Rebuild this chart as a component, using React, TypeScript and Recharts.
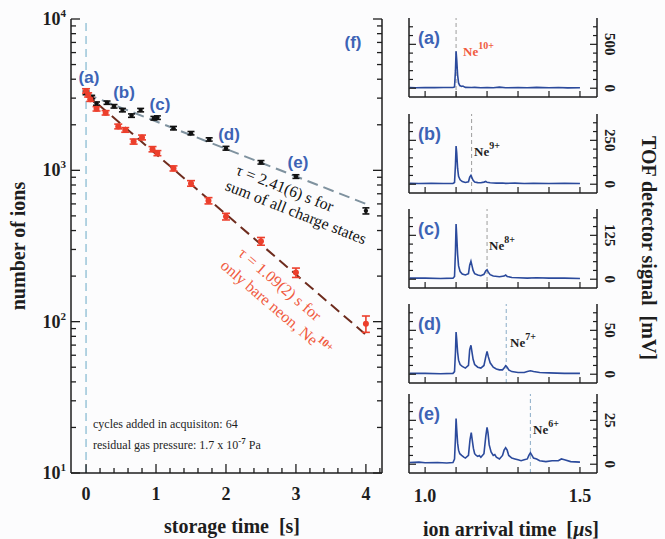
import React from "react";
import { ComposedChart, Line, Scatter, XAxis, YAxis, ErrorBar, ReferenceLine } from "recharts";

// ---------- main panel (f) data ----------
const timesAll = [0, 0.08, 0.15, 0.3, 0.4, 0.52, 0.65, 0.78, 0.97, 1.02, 1.25, 1.5, 1.76, 2.0, 2.5, 3.0, 4.0];
const ionsAll = [3250, 3050, 2760, 2800, 2650, 2500, 2300, 2500, 2210, 2230, 1900, 1760, 1600, 1400, 1130, 910, 540];
const errAll = [90, 80, 70, 70, 70, 65, 60, 65, 60, 60, 50, 45, 40, 40, 30, 25, 25];

const timesNe10 = [0, 0.03, 0.06, 0.15, 0.28, 0.46, 0.56, 0.68, 0.8, 0.95, 1.02, 1.25, 1.5, 1.75, 2.0, 2.5, 3.0, 4.0];
const ionsNe10 = [3350, 3150, 2950, 2550, 2400, 1950, 1850, 1550, 1650, 1380, 1300, 1030, 820, 630, 495, 340, 211, 97];
const errNe10 = [110, 100, 95, 85, 80, 70, 65, 60, 60, 55, 50, 40, 35, 30, 25, 20, 15, 12];

const fitTimes = [0, 4];
const fitAll = [3200, 600];
const fitNe10 = [3200, 82];

const mainXTicks = [0, 0.2, 0.4, 0.6, 0.8, 1, 1.2, 1.4, 1.6, 1.8, 2, 2.2, 2.4, 2.6, 2.8, 3, 3.2, 3.4, 3.6, 3.8, 4, 4.2];
const mainXLabels = [0, 1, 2, 3, 4];
const mainYTicks = [10, 20, 30, 40, 50, 60, 70, 80, 90, 100, 200, 300, 400, 500, 600, 700, 800, 900, 1000, 2000, 3000, 4000, 5000, 6000, 7000, 8000, 9000, 10000];
const mainYLabels = [10, 100, 1000, 10000];

// ---------- TOF spectra (ion arrival time [us], signal [mV]) ----------
const tofA = [[0.95, 8], [0.97, 6], [1.0, 8], [1.03, 7], [1.06, 8], [1.09, 8], [1.095, 15], [1.098, 200], [1.1, 420], [1.102, 330], [1.105, 150], [1.108, 60], [1.112, 30], [1.118, 20], [1.122, 25], [1.13, 10], [1.15, 8], [1.16, 10], [1.18, 5], [1.2, 8], [1.22, 6], [1.24, 12], [1.26, 5], [1.3, 8], [1.33, 5], [1.36, 10], [1.4, 6], [1.43, 8], [1.46, 4], [1.5, 6]];
const tofB = [[0.95, 5], [0.98, 4], [1.02, 5], [1.06, 4], [1.09, 5], [1.095, 10], [1.098, 110], [1.1, 217], [1.102, 180], [1.105, 90], [1.108, 45], [1.113, 25], [1.12, 15], [1.13, 10], [1.14, 14], [1.144, 40], [1.148, 50], [1.151, 38], [1.155, 22], [1.16, 12], [1.17, 9], [1.18, 8], [1.19, 12], [1.196, 16], [1.2, 11], [1.21, 8], [1.23, 6], [1.25, 7], [1.26, 5], [1.29, 6], [1.32, 4], [1.35, 5], [1.4, 4], [1.45, 5], [1.5, 4]];
const tofC = [[0.95, 3], [1.0, 3], [1.05, 2], [1.09, 3], [1.095, 8], [1.098, 80], [1.1, 157], [1.102, 125], [1.105, 70], [1.108, 38], [1.113, 22], [1.12, 15], [1.13, 12], [1.14, 16], [1.144, 40], [1.148, 51], [1.151, 40], [1.155, 25], [1.16, 16], [1.17, 12], [1.18, 10], [1.19, 14], [1.196, 24], [1.2, 27], [1.204, 20], [1.21, 13], [1.22, 9], [1.24, 7], [1.255, 9], [1.26, 12], [1.265, 8], [1.28, 5], [1.3, 4], [1.33, 3], [1.36, 4], [1.4, 3], [1.45, 3], [1.5, 2]];
const tofD = [[0.95, 1], [1.0, 1], [1.05, 0.5], [1.09, 1], [1.095, 3], [1.098, 25], [1.1, 48], [1.102, 40], [1.105, 25], [1.108, 16], [1.113, 11], [1.12, 9], [1.13, 7], [1.14, 10], [1.144, 28], [1.148, 33], [1.151, 26], [1.155, 17], [1.16, 11], [1.17, 8], [1.18, 7], [1.19, 10], [1.196, 20], [1.2, 26], [1.204, 20], [1.21, 13], [1.22, 8], [1.23, 6], [1.24, 5], [1.25, 5], [1.255, 7], [1.26, 9.6], [1.265, 8], [1.27, 5], [1.28, 3], [1.3, 2], [1.32, 2], [1.33, 3], [1.34, 4], [1.35, 3], [1.37, 2], [1.4, 1.5], [1.45, 1], [1.5, 1]];
const tofE = [[0.95, 1], [0.98, 1.2], [1.0, 0.8], [1.04, 1], [1.07, 0.7], [1.09, 1], [1.095, 3], [1.098, 15], [1.1, 26], [1.102, 20], [1.105, 12], [1.108, 8], [1.112, 6], [1.118, 5], [1.125, 4], [1.13, 3.5], [1.14, 5], [1.145, 14], [1.149, 18], [1.152, 14], [1.156, 9], [1.16, 6], [1.165, 5], [1.17, 4.5], [1.175, 5], [1.18, 4], [1.19, 6], [1.196, 16], [1.2, 21], [1.203, 18], [1.207, 11], [1.213, 7], [1.22, 5], [1.225, 5.5], [1.23, 4], [1.24, 3], [1.25, 5], [1.255, 8], [1.26, 9.4], [1.265, 8], [1.27, 5], [1.28, 3.5], [1.29, 3], [1.3, 2.5], [1.31, 2], [1.32, 2.5], [1.33, 3], [1.335, 5], [1.34, 6.5], [1.345, 5], [1.35, 3.5], [1.36, 3], [1.37, 2], [1.39, 1.5], [1.41, 2], [1.43, 2], [1.44, 3], [1.45, 2.5], [1.47, 1.5], [1.5, 1.2]];

const panelXTicks = [1.0, 1.1, 1.2, 1.3, 1.4, 1.5];
const panelXLabels = [1.0, 1.5];
const panelLetters = ["(a)", "(b)", "(c)", "(d)", "(e)"];
const panelIons = ["10+", "9+", "8+", "7+", "6+"];
const panelIonTimes = [1.1, 1.15, 1.2, 1.262, 1.34];
const panelDomains = [[-100, 800], [-50, 400], [-25, 200], [-10, 80], [-5, 40]];
const panelTickSteps = [100, 50, 25, 10, 5];
const panelTickCounts = [8, 8, 8, 8, 8];
const panelLabelValues = [500, 250, 125, 50, 25];
const panelSpectra = [tofA, tofB, tofC, tofD, tofE];

// ---------- styling / layout ----------
const SERIF = "'Liberation Serif', 'Times New Roman', serif";
const SANS = "'Liberation Sans', Arial, sans-serif";
const INK = "#1e1e1e";
const BLUE_LABEL = "#3d63b5";
const RED = "#ec3f2c";
const RED_TEXT = "#f05a40";
const BG = "#fcfcfd";

const panelTops = [18, 114, 209, 304, 394];
const panelH = 79;
const panelLeft = 409;
const panelRight = 597;
const ionLabelX = [463, 474, 489, 510, 533];
const ionLabelDy = [38, 42, 41, 43, 40];
const ionColors = [RED_TEXT, INK, INK, INK, INK];
const ionLineColors = ["#a6a6a6", "#a6a6a6", "#a6a6a6", "#95b4cc", "#95b4cc"];

const near = (a: number, b: number) => Math.abs(a - b) < 1e-6;

// ----- main chart ticks -----
const MainBottomTick = (props: any) => {
  const { x, y, payload } = props;
  const v = payload.value;
  const major = mainXLabels.some((m) => near(m, v));
  return (
    <g>
      <line x1={x} y1={y} x2={x} y2={y - (major ? 9 : 5)} stroke={INK} strokeWidth={1.3} />
      {major && (
        <text x={x} y={y + 27} textAnchor="middle" fontFamily={SERIF} fontWeight="bold" fontSize={18} fill={INK}>
          {Math.round(v)}
        </text>
      )}
    </g>
  );
};
const MainTopTick = (props: any) => {
  const { x, y, payload } = props;
  const major = mainXLabels.some((m) => near(m, payload.value));
  return <line x1={x} y1={y} x2={x} y2={y + (major ? 9 : 5)} stroke={INK} strokeWidth={1.3} />;
};
const MainLeftTick = (props: any) => {
  const { x, y, payload } = props;
  const v = payload.value;
  const major = mainYLabels.some((m) => Math.abs(m - v) < 1e-3);
  return (
    <g>
      <line x1={x} y1={y} x2={x + (major ? 9 : 5)} y2={y} stroke={INK} strokeWidth={1.3} />
      {major && (
        <text x={x - 5} y={y + 6} textAnchor="end" fontFamily={SERIF} fontWeight="bold" fontSize={18} fill={INK}>
          10
          <tspan dy={-8} fontSize={11}>
            {Math.round(Math.log10(v))}
          </tspan>
        </text>
      )}
    </g>
  );
};
const MainRightTick = (props: any) => {
  const { x, y, payload } = props;
  const major = mainYLabels.some((m) => Math.abs(m - payload.value) < 1e-3);
  return <line x1={x} y1={y} x2={x - (major ? 9 : 5)} y2={y} stroke={INK} strokeWidth={1.3} />;
};

// ----- panel ticks -----
const makePanelBottomTick = (showLabels: boolean) => (props: any) => {
  const { x, y, payload } = props;
  const v = payload.value;
  const lab = showLabels && panelXLabels.some((m) => near(m, v));
  return (
    <g>
      <line x1={x} y1={y} x2={x} y2={y - 6} stroke={INK} strokeWidth={1.2} />
      {lab && (
        <text x={x} y={y + 29} textAnchor="middle" fontFamily={SERIF} fontWeight="bold" fontSize={18} fill={INK}>
          {v.toFixed(1)}
        </text>
      )}
    </g>
  );
};
const PanelTopTick = (props: any) => {
  const { x, y } = props;
  return <line x1={x} y1={y} x2={x} y2={y + 6} stroke={INK} strokeWidth={1.2} />;
};
const makePanelLeftTick = (label: number) => (props: any) => {
  const { x, y, payload } = props;
  const v = payload.value;
  const major = v === 0 || v === label;
  return <line x1={x} y1={y} x2={x + (major ? 7 : 4)} y2={y} stroke={INK} strokeWidth={1.2} />;
};
const makePanelRightTick = (label: number) => (props: any) => {
  const { x, y, payload } = props;
  const v = payload.value;
  const major = v === 0 || v === label;
  const tx = x + 13;
  return (
    <g>
      <line x1={x} y1={y} x2={x - (major ? 7 : 4)} y2={y} stroke={INK} strokeWidth={1.2} />
      {major && (
        <text
          x={tx}
          y={y}
          transform={`rotate(90, ${tx}, ${y})`}
          textAnchor="middle"
          dominantBaseline="central"
          fontFamily={SERIF}
          fontWeight="bold"
          fontSize={15}
          fill={INK}
        >
          {v}
        </text>
      )}
    </g>
  );
};

const axisLine = { stroke: INK, strokeWidth: 1.5 };

function MainChart() {
  const allData = timesAll.map((t, i) => ({ x: t, y: ionsAll[i], err: errAll[i] }));
  const ne10Data = timesNe10.map((t, i) => ({ x: t, y: ionsNe10[i], err: errNe10[i] }));
  const fitAllData = fitTimes.map((t, i) => ({ x: t, y: fitAll[i] }));
  const fitNe10Data = fitTimes.map((t, i) => ({ x: t, y: fitNe10[i] }));
  const xDomain = [-0.215, 4.23];
  return (
    <div style={{ position: "absolute", left: 0, top: 0 }}>
      <ComposedChart width={400} height={539} margin={{ top: 19, right: 0, bottom: 0, left: 0 }}>
        <XAxis
          dataKey="x"
          type="number"
          domain={xDomain}
          allowDataOverflow
          ticks={mainXTicks}
          interval={0}
          tickSize={0}
          tickMargin={0}
          tick={MainBottomTick}
          axisLine={axisLine}
          tickLine={false}
          height={66}
        />
        <XAxis
          xAxisId="t"
          orientation="top"
          dataKey="x"
          type="number"
          domain={xDomain}
          allowDataOverflow
          ticks={mainXTicks}
          interval={0}
          tickSize={0}
          tickMargin={0}
          tick={MainTopTick}
          axisLine={axisLine}
          tickLine={false}
          height={0}
        />
        <YAxis
          dataKey="y"
          type="number"
          scale="log"
          domain={[10, 10000]}
          allowDataOverflow
          ticks={mainYTicks}
          interval={0}
          tickSize={0}
          tickMargin={0}
          tick={MainLeftTick}
          axisLine={axisLine}
          tickLine={false}
          width={71}
        />
        <YAxis
          yAxisId="r"
          orientation="right"
          type="number"
          scale="log"
          domain={[10, 10000]}
          allowDataOverflow
          ticks={mainYTicks}
          interval={0}
          tickSize={0}
          tickMargin={0}
          tick={MainRightTick}
          axisLine={axisLine}
          tickLine={false}
          width={18}
        />
        <ReferenceLine x={0} stroke="#8cbdd3" strokeWidth={1.3} strokeDasharray="8 5" />
        <Line data={fitAllData} dataKey="y" stroke="#7f929f" strokeWidth={2} strokeDasharray="11 6" dot={false} isAnimationActive={false} />
        <Line data={fitNe10Data} dataKey="y" stroke="#6e2c1e" strokeWidth={2} strokeDasharray="11 6" dot={false} isAnimationActive={false} />
        <Scatter
          data={allData}
          dataKey="y"
          isAnimationActive={false}
          shape={(p: any) => <circle cx={p.cx} cy={p.cy} r={2.2} fill="#111" />}
        >
          <ErrorBar dataKey="err" direction="y" width={3.5} stroke="#111" strokeWidth={1.6} />
        </Scatter>
        <Scatter
          data={ne10Data}
          dataKey="y"
          isAnimationActive={false}
          shape={(p: any) => <circle cx={p.cx} cy={p.cy} r={3} fill={RED} />}
        >
          <ErrorBar dataKey="err" direction="y" width={4} stroke={RED} strokeWidth={1.6} />
        </Scatter>
      </ComposedChart>
    </div>
  );
}

function Panel({ i }: { i: number }) {
  const top = panelTops[i];
  const last = i === panelTops.length - 1;
  const bottomH = last ? 40 : 8;
  const padTop = 8;
  const data = panelSpectra[i].map(([t, v]) => ({ t, v }));
  const step = panelTickSteps[i];
  const yTicks = Array.from({ length: panelTickCounts[i] }, (_, k) => k * step);
  const label = panelLabelValues[i];
  const xDomain = [0.948, 1.555];
  return (
    <div style={{ position: "absolute", left: 400, top: top - padTop }}>
      <ComposedChart
        width={265}
        height={panelH + padTop + bottomH}
        data={data}
        margin={{ top: padTop, right: 0, bottom: 0, left: 0 }}
      >
        <XAxis
          dataKey="t"
          type="number"
          domain={xDomain}
          allowDataOverflow
          ticks={panelXTicks}
          interval={0}
          tickSize={0}
          tickMargin={0}
          tick={makePanelBottomTick(last)}
          axisLine={axisLine}
          tickLine={false}
          height={bottomH}
        />
        <XAxis
          xAxisId="t"
          orientation="top"
          dataKey="t"
          type="number"
          domain={xDomain}
          allowDataOverflow
          ticks={panelXTicks}
          interval={0}
          tickSize={0}
          tickMargin={0}
          tick={PanelTopTick}
          axisLine={axisLine}
          tickLine={false}
          height={0}
        />
        <YAxis
          type="number"
          domain={panelDomains[i]}
          allowDataOverflow
          ticks={yTicks}
          interval={0}
          tickSize={0}
          tickMargin={0}
          tick={makePanelLeftTick(label)}
          axisLine={axisLine}
          tickLine={false}
          width={panelLeft - 400}
        />
        <YAxis
          yAxisId="r"
          orientation="right"
          type="number"
          domain={panelDomains[i]}
          allowDataOverflow
          ticks={yTicks}
          interval={0}
          tickSize={0}
          tickMargin={0}
          tick={makePanelRightTick(label)}
          axisLine={axisLine}
          tickLine={false}
          width={665 - panelRight}
        />
        <ReferenceLine x={panelIonTimes[i]} stroke={ionLineColors[i]} strokeWidth={1.1} strokeDasharray="4 3" />
        <Line dataKey="v" stroke="#2b4a9c" strokeWidth={1.6} dot={false} isAnimationActive={false} type="linear" />
      </ComposedChart>
    </div>
  );
}

function Overlay() {
  const mainLabels = [
    { t: "(a)", x: 89, y: 83 },
    { t: "(b)", x: 124, y: 98 },
    { t: "(c)", x: 160, y: 110 },
    { t: "(d)", x: 229, y: 140 },
    { t: "(e)", x: 298, y: 168 },
    { t: "(f)", x: 353, y: 48 },
  ];
  return (
    <svg width={665} height={539} style={{ position: "absolute", left: 0, top: 0, pointerEvents: "none" }}>
      {mainLabels.map((m) => (
        <text key={m.t} x={m.x} y={m.y} textAnchor="middle" fontFamily={SANS} fontWeight="bold" fontSize={17} fill={BLUE_LABEL}>
          {m.t}
        </text>
      ))}
      {/* fit annotations */}
      <g fontFamily={SERIF} fontSize={16} fill="#111">
        <text x={285} y={188} textAnchor="middle" dominantBaseline="central" transform="rotate(21.5, 285, 188)">
          τ = 2.41(6) s for
        </text>
        <text x={296} y={212} textAnchor="middle" dominantBaseline="central" transform="rotate(21.5, 296, 212)">
          sum of all charge states
        </text>
      </g>
      <g fontFamily={SERIF} fontSize={16} fill={RED_TEXT}>
        <text x={280} y={284} textAnchor="middle" dominantBaseline="central" transform="rotate(40.5, 280, 284)">
          τ = 1.09(2) s for
        </text>
        <text x={276} y={308} textAnchor="middle" dominantBaseline="central" transform="rotate(40.5, 276, 308)">
          only bare neon, Ne
          <tspan dy={-6} fontSize={11} fontWeight="bold">10+</tspan>
        </text>
      </g>
      <g fontFamily={SERIF} fontSize={12} fill={INK}>
        <text x={93} y={428}>cycles added in acquisiton: 64</text>
        <text x={93} y={449}>
          residual gas pressure: 1.7 x 10
          <tspan dy={-5} fontSize={9} fontWeight="bold">-7</tspan>
          <tspan dy={5}> Pa</tspan>
        </text>
      </g>
      {/* axis titles */}
      <text x={25} y={246} transform="rotate(-90, 25, 246)" textAnchor="middle" fontFamily={SERIF} fontWeight="bold" fontSize={20} fill={INK}>
        number of ions
      </text>
      <text x={232} y={533} textAnchor="middle" fontFamily={SERIF} fontWeight="bold" fontSize={20} fill={INK}>
        storage time{"\u00a0\u00a0"}[s]
      </text>
      <text x={642} y={248} transform="rotate(90, 642, 248)" textAnchor="middle" fontFamily={SERIF} fontWeight="bold" fontSize={20} fill={INK}>
        TOF detector signal{"\u00a0\u00a0"}[mV]
      </text>
      <text x={511} y={536} textAnchor="middle" fontFamily={SERIF} fontWeight="bold" fontSize={20} fill={INK}>
        ion arrival time{"\u00a0\u00a0"}[<tspan fontStyle="italic">µ</tspan>s]
      </text>
      {/* panel labels */}
      {panelTops.map((top, i) => (
        <g key={i}>
          <text x={418} y={top + 26} fontFamily={SANS} fontWeight="bold" fontSize={18} fill={BLUE_LABEL}>
            {panelLetters[i]}
          </text>
          <text x={ionLabelX[i]} y={top + ionLabelDy[i]} fontFamily={SERIF} fontWeight="bold" fontSize={13} fill={ionColors[i]}>
            Ne
            <tspan dy={-7} fontSize={10}>{panelIons[i]}</tspan>
          </text>
        </g>
      ))}
    </svg>
  );
}

export default function App() {
  return (
    <div style={{ position: "absolute", left: 0, top: 0, width: 665, height: 539, background: BG, overflow: "hidden" }}>
      <MainChart />
      {panelTops.map((_, i) => (
        <Panel key={i} i={i} />
      ))}
      <Overlay />
    </div>
  );
}
